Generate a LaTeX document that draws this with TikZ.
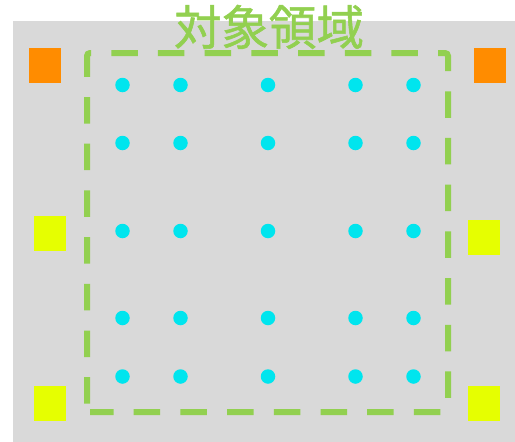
\documentclass[tikz,border=0pt]{standalone}
\usepackage{fontspec}
\newfontfamily\cjk[FakeBold=1.2]{Noto Sans CJK JP}
\definecolor{bggray}{RGB}{217,217,217}
\definecolor{titlegreen}{RGB}{146,208,80}
\definecolor{sqorange}{RGB}{255,140,0}
\definecolor{sqyellow}{RGB}{230,255,0}
\definecolor{dotcyan}{RGB}{0,229,238}
\tikzset{
  sqbox/.style={rectangle, inner sep=0pt, minimum width=32pt, minimum height=35pt, draw=none},
  orangebox/.style={sqbox, fill=sqorange},
  yellowbox/.style={sqbox, fill=sqyellow},
  pt/.style={circle, inner sep=0pt, minimum size=14.5pt, fill=dotcyan, draw=none},
  region/.style={draw=titlegreen, line width=6pt, dash pattern=on 26.5pt off 20.2pt, dash phase=3pt, rounded corners=3pt}
}
\begin{document}
\begin{tikzpicture}[x=1pt,y=-1pt]
\useasboundingbox (0,0) rectangle (515,442);
\fill[bggray] (13,21) rectangle (515,442);
\draw[region] (87,412) -- (448,412) -- (448,53) -- (87,53) -- cycle;
\node[orangebox] (o1) at (45,65.5) {};
\node[orangebox] (o2) at (490,65.5) {};
\node[yellowbox] (y1) at (50,233.5) {};
\node[yellowbox] (y2) at (484,237.5) {};
\node[yellowbox] (y3) at (50,403.5) {};
\node[yellowbox] (y4) at (484,403) {};
\foreach \i/\x in {1/122.5,2/180.5,3/268,4/355.5,5/413.5}{
  \foreach \j/\y in {1/85,2/143,3/231,4/318,5/376.5}{
    \node[pt] (d\i\j) at (\x,\y) {};
  }
}
\node[text=titlegreen, inner sep=0pt, anchor=base, font=\cjk\fontsize{47.5}{47.5}\selectfont] (title) at (269,45) {対象領域};
\end{tikzpicture}
\end{document}
